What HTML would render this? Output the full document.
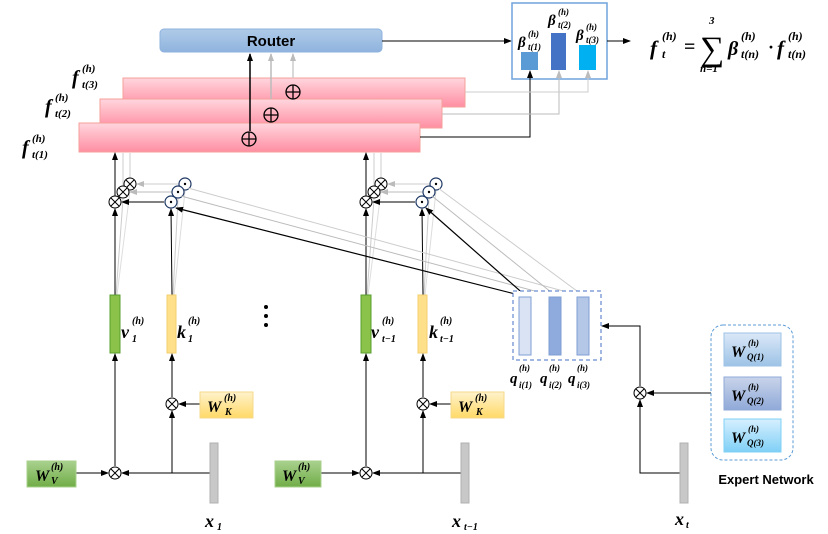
<!DOCTYPE html>
<html><head><meta charset="utf-8"><style>
body{margin:0;background:#fff}
svg{display:block}
text{font-family:"Liberation Serif",serif;font-weight:bold;font-style:italic}
</style></head><body>
<svg width="828" height="534" viewBox="0 0 828 534" xmlns="http://www.w3.org/2000/svg">
<defs>
<marker id="a" markerWidth="8" markerHeight="8" refX="7" refY="4" orient="auto" markerUnits="userSpaceOnUse"><path d="M0,1 L8,4 L0,7z" fill="#000"/></marker>
<marker id="g" markerWidth="8" markerHeight="8" refX="7" refY="4" orient="auto" markerUnits="userSpaceOnUse"><path d="M0,1 L8,4 L0,7z" fill="#bbb"/></marker>
<linearGradient id="pk" x1="0" y1="0" x2="0" y2="1"><stop offset="0" stop-color="#ffd6de"/><stop offset="1" stop-color="#ff8ea2"/></linearGradient>
<linearGradient id="rt" x1="0" y1="0" x2="0" y2="1"><stop offset="0" stop-color="#b0cbe8"/><stop offset="1" stop-color="#8fb3de"/></linearGradient>
<linearGradient id="gr" x1="0" y1="0" x2="0" y2="1"><stop offset="0" stop-color="#a9d18e"/><stop offset="1" stop-color="#70ad47"/></linearGradient>
<linearGradient id="yl" x1="0" y1="0" x2="0" y2="1"><stop offset="0" stop-color="#fff2cc"/><stop offset="1" stop-color="#ffd966"/></linearGradient>
<linearGradient id="q1" x1="0" y1="0" x2="0" y2="1"><stop offset="0" stop-color="#dbe8f8"/><stop offset="1" stop-color="#9dc3e6"/></linearGradient>
<linearGradient id="q2" x1="0" y1="0" x2="0" y2="1"><stop offset="0" stop-color="#c9d4ea"/><stop offset="1" stop-color="#8fa9d8"/></linearGradient>
<linearGradient id="q3" x1="0" y1="0" x2="0" y2="1"><stop offset="0" stop-color="#d6efff"/><stop offset="1" stop-color="#7fd0f6"/></linearGradient>
</defs>

<rect x="160" y="29" width="222" height="23" rx="4" fill="url(#rt)" stroke="#8fb3de"/>
<text x="271" y="46" text-anchor="middle" style="font-family:'Liberation Sans',sans-serif;font-style:normal;font-size:15px">Router</text>
<line x1="382" y1="41" x2="511" y2="41" stroke="#000" marker-end="url(#a)"/>

<rect x="123" y="78" width="342" height="29" fill="url(#pk)" stroke="#f4a09a"/>
<rect x="100" y="99" width="342" height="29" fill="url(#pk)" stroke="#f4a09a"/>
<rect x="79" y="123" width="341" height="29" fill="url(#pk)" stroke="#f4a09a"/>
<g stroke="#000" stroke-width="1.3" fill="none">
<circle cx="249" cy="139" r="7"/><path d="M242,139h14M249,132v14"/>
<circle cx="271" cy="115" r="7"/><path d="M264,115h14M271,108v14"/>
<circle cx="293" cy="92" r="7"/><path d="M286,92h14M293,85v14"/>
</g>
<line x1="250" y1="131" x2="250" y2="54" stroke="#000" stroke-width="1.5" marker-end="url(#a)"/>
<line x1="271" y1="99" x2="271" y2="54" stroke="#bbb" stroke-width="1.5" marker-end="url(#g)"/>
<line x1="293" y1="78" x2="293" y2="54" stroke="#ccc" stroke-width="1.5" marker-end="url(#g)"/>

<text x="72" y="84" font-size="20">f</text><text x="82" y="72" font-size="11">(h)</text><text x="82" y="88" font-size="11">t(3)</text>
<text x="45" y="113" font-size="20">f</text><text x="55" y="101" font-size="11">(h)</text><text x="55" y="117" font-size="11">t(2)</text>
<text x="22" y="154" font-size="20">f</text><text x="32" y="142" font-size="11">(h)</text><text x="32" y="158" font-size="11">t(1)</text>

<rect x="512" y="3" width="95" height="76" fill="#fff" stroke="#6fa3dc" stroke-width="1.5"/>
<rect x="521" y="52" width="17" height="18" fill="#5b9bd5"/>
<rect x="551" y="33" width="15" height="37" fill="#4472c4"/>
<rect x="579" y="45" width="17" height="25" fill="#00b0f0"/>
<text x="518" y="47" font-size="15">β</text><text x="528" y="37" font-size="9">(h)</text><text x="528" y="50" font-size="9">t(1)</text>
<text x="548" y="25" font-size="15">β</text><text x="558" y="15" font-size="9">(h)</text><text x="558" y="28" font-size="9">t(2)</text>
<text x="576" y="40" font-size="15">β</text><text x="586" y="30" font-size="9">(h)</text><text x="586" y="43" font-size="9">t(3)</text>
<line x1="607" y1="41" x2="630" y2="41" stroke="#000" marker-end="url(#a)"/>
<text x="650" y="55" font-size="21">f</text><text x="662" y="40" font-size="12">(h)</text><text x="662" y="58" font-size="12">t</text>
<text x="684" y="53" font-size="20" style="font-style:normal">=</text>
<text x="700" y="60" font-size="34" style="font-style:normal;font-weight:normal">∑</text>
<text x="709" y="24" font-size="11">3</text><text x="700" y="72" font-size="11">n=1</text>
<text x="728" y="55" font-size="20">β</text><text x="741" y="40" font-size="12">(h)</text><text x="741" y="58" font-size="12">t(n)</text>
<text x="768" y="53" font-size="18" style="font-style:normal">·</text>
<text x="777" y="55" font-size="21">f</text><text x="788" y="40" font-size="12">(h)</text><text x="788" y="58" font-size="12">t(n)</text>

<polyline points="420,137 530,137 530,71" fill="none" stroke="#000" marker-end="url(#a)"/>
<polyline points="442,114 559,114 559,71" fill="none" stroke="#bbb" marker-end="url(#g)"/>
<polyline points="465,92 588,92 588,71" fill="none" stroke="#ccc" marker-end="url(#g)"/>

<g id="grp">
<line x1="123" y1="186" x2="123" y2="153" stroke="#ccc"/>
<line x1="130" y1="178" x2="130" y2="153" stroke="#ccc"/>
<line x1="115" y1="196" x2="115" y2="153" stroke="#000" marker-end="url(#a)"/>
<line x1="115" y1="295" x2="115" y2="209" stroke="#000" marker-end="url(#a)"/>
<line x1="116" y1="295" x2="123" y2="199" stroke="#ccc"/>
<line x1="117" y1="295" x2="130" y2="191" stroke="#ddd"/>
<line x1="172" y1="295" x2="171" y2="209" stroke="#000" marker-end="url(#a)"/>
<line x1="173" y1="295" x2="178" y2="199" stroke="#ccc"/>
<line x1="174" y1="295" x2="185" y2="191" stroke="#ddd"/>
<line x1="179" y1="184" x2="137" y2="184" stroke="#ccc" marker-end="url(#g)"/>
<line x1="172" y1="192" x2="130" y2="192" stroke="#bbb" marker-end="url(#g)"/>
<line x1="164" y1="202" x2="122" y2="202" stroke="#000" marker-end="url(#a)"/>
<g fill="#fff" stroke="#000">
<circle cx="130" cy="184" r="6"/><path d="M126,180l8,8M134,180l-8,8" />
<circle cx="123" cy="192" r="6"/><path d="M119,188l8,8M127,188l-8,8"/>
<circle cx="115" cy="202" r="6"/><path d="M111,198l8,8M119,198l-8,8"/>
</g>
<g fill="#fff" stroke="#1f3864" stroke-width="1.2">
<circle cx="185" cy="184" r="6"/><circle cx="178" cy="192" r="6"/><circle cx="171" cy="202" r="6"/>
</g>
<g fill="#000"><circle cx="185" cy="184" r="1.2"/><circle cx="178" cy="192" r="1.2"/><circle cx="171" cy="202" r="1.2"/></g>
<rect x="110" y="295" width="10" height="58" fill="#8bc34a" stroke="#5a9e2f"/>
<rect x="167" y="295" width="9" height="58" fill="#ffe08a" stroke="#f3cf70"/>
<line x1="115" y1="466" x2="115" y2="354" stroke="#000" marker-end="url(#a)"/>
<line x1="172" y1="397" x2="172" y2="354" stroke="#000" marker-end="url(#a)"/>
<line x1="172" y1="473" x2="172" y2="411" stroke="#000" marker-end="url(#a)"/>
<line x1="210" y1="473" x2="122" y2="473" stroke="#000" marker-end="url(#a)"/>
<line x1="200" y1="404" x2="179" y2="404" stroke="#000" marker-end="url(#a)"/>
<g fill="#fff" stroke="#000">
<circle cx="115" cy="473" r="6"/><path d="M111,469l8,8M119,469l-8,8"/>
<circle cx="172" cy="404" r="6"/><path d="M168,400l8,8M176,400l-8,8"/>
</g>
<rect x="200" y="392" width="53" height="26" fill="url(#yl)" stroke="#f6d98a"/>
<rect x="210" y="443" width="8" height="60" fill="#c8c8c8" stroke="#b0b0b0"/>
</g>
<use href="#grp" transform="translate(251,0)"/>
<line x1="76" y1="473" x2="108" y2="473" stroke="#000" marker-end="url(#a)"/>
<line x1="321" y1="473" x2="359" y2="473" stroke="#000" marker-end="url(#a)"/>
<rect x="27" y="461" width="49" height="26" fill="url(#gr)" stroke="#a9d18e"/>
<rect x="275" y="461" width="46" height="26" fill="url(#gr)" stroke="#a9d18e"/>

<line x1="557" y1="297" x2="181" y2="196" stroke="#bbb"/>
<line x1="585" y1="297" x2="188" y2="188" stroke="#ccc"/>
<line x1="557" y1="297" x2="432" y2="196" stroke="#bbb"/>
<line x1="585" y1="297" x2="438" y2="188" stroke="#ccc"/>
<line x1="527" y1="297" x2="176" y2="208" stroke="#000" stroke-width="1.2" marker-end="url(#a)"/>
<line x1="527" y1="297" x2="426" y2="208" stroke="#000" stroke-width="1.2" marker-end="url(#a)"/>

<rect x="513" y="291" width="88" height="69" fill="#fff" stroke="#4472c4" stroke-dasharray="4,3"/>
<rect x="519" y="297" width="12" height="58" fill="#dae3f3" stroke="#7f9fd4"/>
<rect x="549" y="297" width="12" height="58" fill="#8faadc" stroke="#7f9fd4"/>
<rect x="577" y="297" width="12" height="58" fill="#b4c7e7" stroke="#7f9fd4"/>
<g font-size="15"><text x="510" y="383">q</text><text x="540" y="383">q</text><text x="568" y="383">q</text></g>
<g font-size="9"><text x="519" y="371">(h)</text><text x="519" y="388">i(1)</text><text x="549" y="371">(h)</text><text x="549" y="388">i(2)</text><text x="577" y="371">(h)</text><text x="577" y="388">i(3)</text></g>

<polyline points="680,473 640,473 640,400" fill="none" stroke="#000" marker-end="url(#a)"/>
<polyline points="640,386 640,326 602,326" fill="none" stroke="#000" marker-end="url(#a)"/>
<line x1="711" y1="393" x2="647" y2="393" stroke="#000" marker-end="url(#a)"/>
<g fill="#fff" stroke="#000"><circle cx="640" cy="393" r="6"/><path d="M636,389l8,8M644,389l-8,8"/></g>
<rect x="680" y="443" width="8" height="60" fill="#c8c8c8" stroke="#b0b0b0"/>
<rect x="711" y="325" width="82" height="135" rx="12" fill="#fff" stroke="#5b9bd5" stroke-dasharray="3,2"/>
<rect x="724" y="333" width="57" height="33" fill="url(#q1)" stroke="#9dc3e6"/>
<rect x="724" y="377" width="57" height="33" fill="url(#q2)" stroke="#8fa9d8"/>
<rect x="724" y="419" width="57" height="33" fill="url(#q3)" stroke="#7fd0f6"/>
<g font-size="16"><text x="731" y="357">W</text><text x="731" y="401">W</text><text x="731" y="443">W</text></g>
<g font-size="9"><text x="748" y="346">(h)</text><text x="747" y="360">Q(1)</text><text x="748" y="390">(h)</text><text x="747" y="404">Q(2)</text><text x="748" y="432">(h)</text><text x="747" y="446">Q(3)</text></g>
<text x="766" y="484" text-anchor="middle" style="font-family:'Liberation Sans',sans-serif;font-style:normal;font-size:13px">Expert Network</text>

<g font-size="18">
<text x="121" y="338">v</text><text x="177" y="338">k</text>
<text x="371" y="338">v</text><text x="429" y="338">k</text>
<text x="205" y="527">x</text><text x="452" y="527">x</text><text x="675" y="525">x</text>
<text x="35" y="481" font-size="16">W</text><text x="282" y="481" font-size="16">W</text>
<text x="207" y="412" font-size="16">W</text><text x="458" y="412" font-size="16">W</text>
</g>
<g font-size="10">
<text x="132" y="324">(h)</text><text x="132" y="342">1</text>
<text x="188" y="324">(h)</text><text x="188" y="342">1</text>
<text x="382" y="324">(h)</text><text x="382" y="342">t−1</text>
<text x="440" y="324">(h)</text><text x="440" y="342">t−1</text>
<text x="217" y="530">1</text><text x="464" y="530">t−1</text><text x="686" y="528">t</text>
<text x="51" y="470">(h)</text><text x="51" y="484">V</text>
<text x="298" y="470">(h)</text><text x="298" y="484">V</text>
<text x="224" y="401">(h)</text><text x="225" y="415">K</text>
<text x="475" y="401">(h)</text><text x="476" y="415">K</text>
</g>
<g fill="#000"><circle cx="266" cy="307" r="2"/><circle cx="266" cy="316" r="2"/><circle cx="266" cy="325" r="2"/></g>
</svg>
</body></html>
